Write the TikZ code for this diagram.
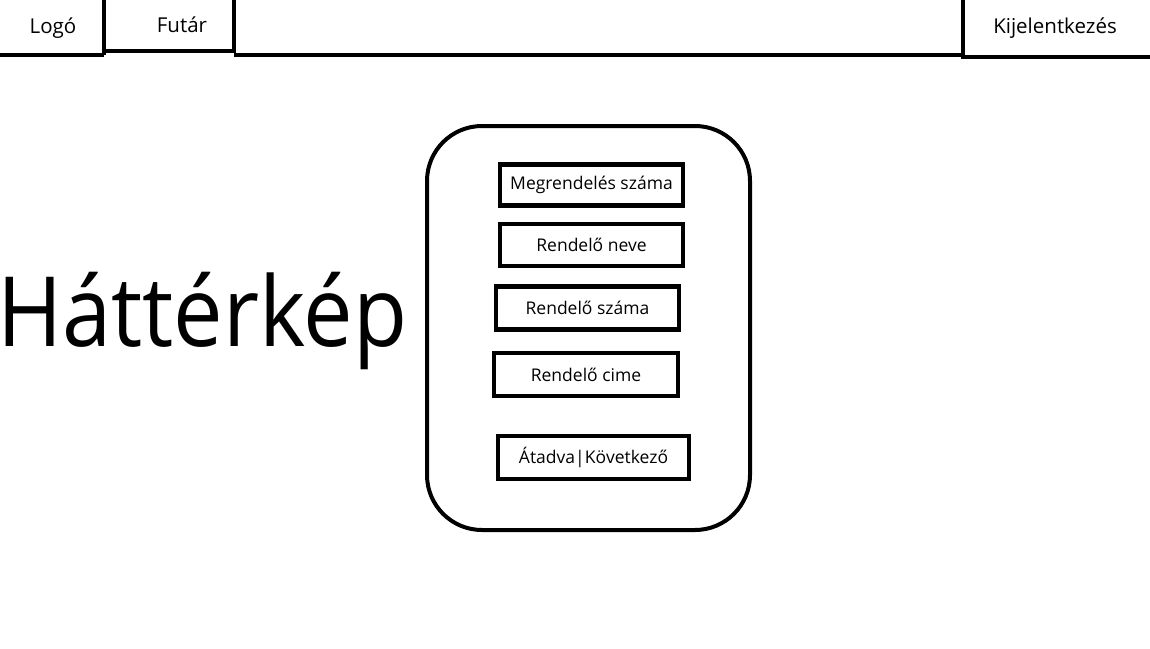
\documentclass[tikz,border=0pt]{standalone}
\usepackage{fontspec}
\setmainfont{Open Sans}
\begin{document}
\begin{tikzpicture}[x=1pt,y=-1pt,
  bar/.style={line width=4pt},
  field/.style={draw,line width=4.5pt,inner sep=0pt},
  lbl/.style={font=\fontsize{17.5}{20}\selectfont},
  toplbl/.style={font=\fontsize{20.5}{24}\selectfont}]
\useasboundingbox[fill=white] (0,0) rectangle (1150,648);
% top bar
\draw[bar] (0,55) -- (104,55);
\draw[bar] (104,0) -- (104,55);
\draw[bar] (104,51) -- (234,51) -- (234,0);
\draw[bar] (234,55) -- (963,55);
\draw[bar] (963,0) -- (963,57) -- (1150,57);
\node[toplbl] (logo) at (53,28) {Logó};
\node[toplbl] (futar) at (182,25) {Futár};
\node[toplbl] (kij) at (1055,28) {Kijelentkezés};
% background text
\node[anchor=base west,inner sep=0pt,xscale=0.91,font=\fontsize{97}{110}\selectfont] (hatter) at (-3,346) {Háttérkép};
% card
\draw[line width=4pt,rounded corners=55pt] (427,126) rectangle (750,530);
% fields
\node[field,minimum width=183pt,minimum height=41pt,lbl] (f1) at (591.5,185) {\raisebox{-1.5pt}{Megrendelés száma}};
\node[field,minimum width=183pt,minimum height=42pt,lbl] (f2) at (591.5,245) {Rendelő neve};
\node[field,minimum width=183pt,minimum height=43pt,lbl] (f3) at (587.5,308) {\raisebox{-1.5pt}{Rendelő száma}};
\node[field,minimum width=184pt,minimum height=43pt,lbl] (f4) at (586,374.5) {Rendelő cime};
\node[field,minimum width=191pt,minimum height=43pt,lbl] (f5) at (593.5,457.5) {Átadva|Következő};
\end{tikzpicture}
\end{document}
